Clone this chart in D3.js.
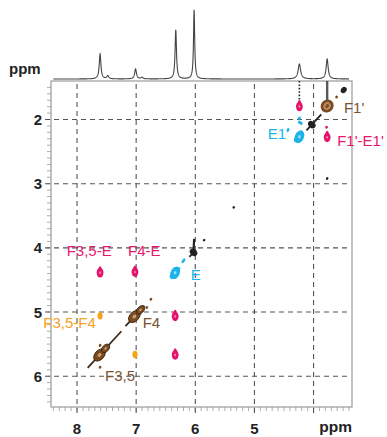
<!DOCTYPE html>
<html>
<head>
<meta charset="utf-8">
<script src="https://cdn.jsdelivr.net/npm/d3@7"></script>
<style>
body { margin: 0; background: #fff; }
svg { display: block; font-family: "Liberation Sans", Arial, sans-serif; }
</style>
</head>
<body>
<div id="chart"></div>
<script>

let xTicks = [8, 7, 6, 5, 4];
let xTickLabels = ["8", "7", "6", "5", ""];
let yTicks = [2, 3, 4, 5, 6];

// 1D projection on top: shift (ppm), height, half width (ppm)
let specShift = [7.61, 7.48, 7.01, 6.90, 6.33, 6.02, 4.24, 3.77];
let specHeight = [25, 3, 10, 1.5, 49, 69, 15, 20];
let specWidth = [0.017, 0.02, 0.018, 0.02, 0.014, 0.012, 0.025, 0.02];

// off-diagonal cross peaks (F2, F1, group)
let crossF2 = [7.61, 7.02, 6.34, 6.34, 4.24, 3.77, 7.61, 7.02];
let crossF1 = [4.38, 4.37, 5.06, 5.66, 1.79, 2.27, 5.06, 5.66];
let crossGroup = ["EF", "EF", "EF", "EF", "EF", "EF", "FF", "FF"];

// diagonal peaks: centre and extent along F2
let diagF2 = [7.62, 7.03, 6.34, 6.03, 4.24, 3.77, 4.03];
let diagF1 = [5.67, 5.07, 4.39, 4.07, 2.27, 1.79, 2.08];
let diagFrom = [7.82, 7.18, 6.42, 6.10, 4.30, 3.84, 4.12];
let diagTo = [7.25, 6.86, 6.26, 5.99, 4.18, 3.72, 3.87];
let diagGroup = ["F", "F", "E", "X", "E", "F", "X"];

// small contour fragments
let dotF2 = [3.49, 3.77, 5.35, 5.85, 6.20, 6.33, 4.43, 4.21, 3.61, 7.61, 7.61, 6.82, 6.75, 3.78, 4.24, 4.24];
let dotF1 = [1.54, 2.92, 3.37, 3.88, 4.20, 4.43, 2.16, 2.06, 1.65, 5.52, 5.86, 4.93, 4.80, 2.12, 1.98, 2.04];
let dotGroup = ["X", "X", "X", "X", "E", "E", "E", "E", "F", "F", "F", "F", "F", "EF", "E", "E"];

// vertical traces from the projection into the map
let traceF2 = [4.24, 3.77];
let traceEnd = [1.74, 1.71];

let labelText = ["F3,5-E", "F4-E", "E", "F3,5-F4", "F4", "F3,5", "F1'", "E1'", "F1'-E1'"];
let labelF2 = [8.175, 7.138, 6.078, 8.57, 6.89, 7.527, 3.486, 4.776, 3.60];
let labelF1 = [4.127, 4.127, 4.502, 5.254, 5.254, 6.075, 1.899, 2.309, 2.413];
let labelGroup = ["EF", "EF", "E", "FF", "F", "F", "F", "E", "EF"];

let colors = { EF: "#e3136c", FF: "#f5a31a", E: "#1cb4e8", F: "#7b4a20", X: "#222222" };
let labelColors = { EF: "#e8176f", FF: "#f6a01c", E: "#1ab6ea", F: "#7a5230" };

let W = 387, H = 437;
let mLeft = 51, mRight = 352, mTop = 81, mBottom = 407;

let x = d3.scaleLinear().domain([8.44, 3.35]).range([mLeft, mRight]);
let y = d3.scaleLinear().domain([1.4, 6.48]).range([mTop, mBottom]);
let yi = d3.scaleLinear().domain([0, 70]).range([79, 9]);

let svg = d3.select("#chart").append("svg").attr("width", W).attr("height", H);

// projection spectrum
let grid = d3.range(8.40, 3.40, -0.002);
let spec = grid.map(function(p) {
    let s = 0;
    for (let i = 0; i < specShift.length; i++) {
        let u = (p - specShift[i]) / specWidth[i];
        s += specHeight[i] / (1 + u * u);
    }
    return [p, s];
});
svg.append("path")
    .datum(spec)
    .attr("d", d3.line().x(function(d) { return x(d[0]); }).y(function(d) { return yi(d[1]); }))
    .attr("fill", "none")
    .attr("stroke", "#444")
    .attr("stroke-width", 1.1);

// frame
svg.append("rect")
    .attr("x", mLeft).attr("y", mTop)
    .attr("width", mRight - mLeft).attr("height", mBottom - mTop)
    .attr("fill", "none").attr("stroke", "#9a9a9a").attr("stroke-width", 1.2);

// minor ticks
let minorY = d3.range(1.5, 6.45, 0.1);
svg.selectAll(".my").data(minorY).enter().append("line")
    .attr("x1", mLeft - 4).attr("x2", mLeft)
    .attr("y1", function(d) { return y(d); }).attr("y2", function(d) { return y(d); })
    .attr("stroke", "#999").attr("stroke-width", 0.8);
let minorX = d3.range(8.4, 3.39, -0.1);
svg.selectAll(".mx").data(minorX).enter().append("line")
    .attr("x1", function(d) { return x(d); }).attr("x2", function(d) { return x(d); })
    .attr("y1", mBottom).attr("y2", mBottom + 4)
    .attr("stroke", "#999").attr("stroke-width", 0.8);

// grid
svg.selectAll(".gx").data(xTicks).enter().append("line")
    .attr("x1", function(d) { return x(d); }).attr("x2", function(d) { return x(d); })
    .attr("y1", mTop + 3).attr("y2", mBottom + 8)
    .attr("stroke", "#555").attr("stroke-width", 1.1).attr("stroke-dasharray", "5,4");
svg.selectAll(".gy").data(yTicks).enter().append("line")
    .attr("x1", mLeft - 6).attr("x2", mRight - 2)
    .attr("y1", function(d) { return y(d); }).attr("y2", function(d) { return y(d); })
    .attr("stroke", "#555").attr("stroke-width", 1.1).attr("stroke-dasharray", "5,4");

// tick labels
svg.selectAll(".ly").data(yTicks).enter().append("text")
    .attr("x", 42).attr("y", function(d) { return y(d) + 5.5; })
    .attr("text-anchor", "end").attr("font-size", 15).attr("font-weight", "bold")
    .attr("fill", "#222").text(function(d) { return d; });
svg.selectAll(".lx").data(xTicks).enter().append("text")
    .attr("x", function(d) { return x(d); }).attr("y", 434)
    .attr("text-anchor", "middle").attr("font-size", 15).attr("font-weight", "bold")
    .attr("fill", "#222").text(function(d, i) { return xTickLabels[i]; });
svg.append("text").attr("x", 352).attr("y", 432).attr("text-anchor", "end")
    .attr("font-size", 15.5).attr("font-weight", "bold").attr("fill", "#222").text("ppm");
svg.append("text").attr("x", 9).attr("y", 74)
    .attr("font-size", 15).attr("font-weight", "bold").attr("fill", "#222").text("ppm");

// traces
svg.selectAll(".tr").data(traceF2).enter().append("line")
    .attr("x1", function(d) { return x(d); }).attr("x2", function(d) { return x(d); })
    .attr("y1", mTop).attr("y2", function(d, i) { return y(traceEnd[i]); })
    .attr("stroke", "#222")
    .attr("stroke-width", function(d, i) { return i == 0 ? 1.6 : 2.4; })
    .attr("stroke-dasharray", function(d, i) { return i == 0 ? "1.6,1.8" : null; })
    .style("opacity", function(d, i) { return i == 0 ? 1 : 0.75; });

let peaks = svg.append("g");

function blob(cx, cy, rx, ry, ang, fill, stroke, sw) {
    peaks.append("ellipse")
        .attr("cx", 0).attr("cy", 0).attr("rx", rx).attr("ry", ry)
        .attr("transform", "translate(" + cx + "," + cy + ") rotate(" + ang + ")")
        .attr("fill", fill)
        .attr("stroke", stroke || "none")
        .attr("stroke-width", sw || 0.9);
}

// diagonal peaks
diagF2.forEach(function(c, i) {
    let d = c - diagF1[i];
    let x0 = x(diagFrom[i]), y0 = y(diagFrom[i] - d);
    let x1 = x(diagTo[i]), y1 = y(diagTo[i] - d);
    let len = Math.hypot(x1 - x0, y1 - y0);
    let ang = Math.atan2(y1 - y0, x1 - x0) * 180 / Math.PI;
    let cx = x(c), cy = y(diagF1[i]);
    let g = diagGroup[i];
    let col = colors[g];
    if (g == "F" && len > 20) {
        peaks.append("line").attr("x1", x0).attr("y1", y0).attr("x2", x1).attr("y2", y1)
            .attr("stroke", "#3a2412").attr("stroke-width", 1.7);
        let ux = Math.cos(ang * Math.PI / 180), uy = Math.sin(ang * Math.PI / 180);
        blob(cx, cy, 7, 4.6, ang, col, "#3a2412");
        blob(cx + ux * 9, cy + uy * 9, 5, 3.2, ang, col, "#3a2412");
        blob(cx, cy, 2.2, 1.5, ang, "#caa57c");
        blob(cx + ux * 9, cy + uy * 9, 1.6, 1, ang, "#caa57c");
    } else if (g == "F") {
        peaks.append("line").attr("x1", x0).attr("y1", y0).attr("x2", x1).attr("y2", y1)
            .attr("stroke", "#3a2412").attr("stroke-width", 1.5);
        blob(cx, cy, 5.5, 5, ang, "#b48a62", col, 2.6);
        blob(cx, cy, 2, 1.6, ang, col);
        blob(cx + 3, cy - 4, 1.4, 1.4, 0, col);
        blob(cx - 4, cy + 4, 1.3, 1.3, 0, col);
    } else if (g == "E") {
        peaks.append("line").attr("x1", x0).attr("y1", y0).attr("x2", x1).attr("y2", y1)
            .attr("stroke", col).attr("stroke-width", 2);
        blob(cx, cy, 4.6, 6.5, 25, col);
        blob(cx - 2, cy + 3, 3.5, 3, 0, col);
        blob(cx + 2, cy - 4, 2, 2.5, 0, col);
        blob(cx, cy, 1.2, 1.8, 0, "#a9e4f7");
    } else {
        peaks.append("line").attr("x1", x0).attr("y1", y0).attr("x2", x1).attr("y2", y1)
            .attr("stroke", col).attr("stroke-width", 1.8);
        blob(cx, cy, 3.2, 4.2, ang, col);
    }
});

// tail above the black diagonal peak at 6.03
peaks.append("line")
    .attr("x1", x(6.03)).attr("x2", x(6.02))
    .attr("y1", y(4.07)).attr("y2", y(3.86))
    .attr("stroke", colors.X).attr("stroke-width", 2.2);

// cross peaks
crossF2.forEach(function(c, i) {
    let g = crossGroup[i];
    let cx = x(c), cy = y(crossF1[i]);
    if (g == "EF") {
        blob(cx, cy + 0.5, 3.4, 4.8, 0, colors.EF);
        blob(cx, cy - 3.5, 1.5, 2.6, 0, colors.EF);
        blob(cx, cy + 0.5, 0.9, 1.4, 0, "#f08ab4");
    } else {
        blob(cx, cy, 2.6, 3.6, 0, colors.FF);
    }
});

// small fragments
dotF2.forEach(function(c, i) {
    let g = dotGroup[i];
    let r = g == "X" ? 1.2 : (g == "E" ? 1.4 : 1.3);
    if (i == 0) r = 2.8;
    blob(x(c), y(dotF1[i]), r, g == "E" && i == 4 ? 2.8 : r * 1.2, 35, colors[g]);
});

// annotations
svg.selectAll(".lab").data(labelText).enter().append("text")
    .attr("x", function(d, i) { return x(labelF2[i]); })
    .attr("y", function(d, i) { return y(labelF1[i]); })
    .attr("font-size", 15)
    .attr("fill", function(d, i) { return labelColors[labelGroup[i]]; })
    .text(function(d) { return d; });

</script>
</body>
</html>
